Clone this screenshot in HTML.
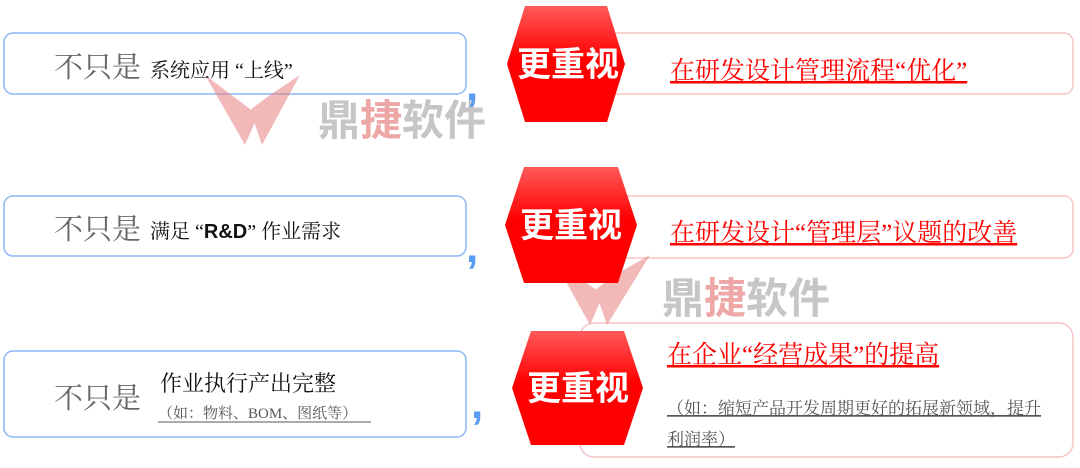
<!DOCTYPE html>
<html><head><meta charset="utf-8"><style>
body{margin:0;background:#fff;width:1080px;height:463px;overflow:hidden}
svg text{font-family:"Liberation Serif","Noto Serif CJK SC",serif}
.s{font-family:"Liberation Sans","Noto Sans CJK SC",sans-serif}
</style></head><body>
<svg width="1080" height="463" xmlns="http://www.w3.org/2000/svg">
<defs><linearGradient id="g" x1="0" y1="0" x2="0" y2="1"><stop offset="0" stop-color="#ff5a5a"/><stop offset="0.45" stop-color="#f00"/><stop offset="1" stop-color="#f00"/></linearGradient></defs>
<g fill="none" stroke="#8ab8f5" stroke-width="1.5">
<rect x="4" y="33" width="462" height="61" rx="9"/>
<rect x="4" y="196" width="462" height="60" rx="9"/>
<rect x="4" y="351" width="462" height="86" rx="9"/>
</g>
<g fill="none" stroke="#f8c4c4" stroke-width="1.5">
<rect x="590" y="33" width="483" height="61" rx="9"/>
<rect x="590" y="196" width="483" height="62" rx="9"/>
<rect x="580" y="323" width="493" height="134" rx="14"/>
</g>
<g opacity="0.55">
<path d="M205 75 L245 145 L258 115 Z M250 110 L262 145 L300 75 L270 95 Z" fill="#e88080"/>
<text x="318" y="135" font-size="42" fill="#999" class="s" font-weight="bold">鼎<tspan fill="#e06060">捷</tspan>软件</text>
<path d="M553 258 L590 325 L603 295 Z M595 290 L607 325 L650 255 L615 275 Z" fill="#e88080"/>
<text x="662" y="313" font-size="42" fill="#999" class="s" font-weight="bold">鼎<tspan fill="#e06060">捷</tspan>软件</text>
</g>
<g fill="url(#g)">
<polygon points="525,6 607,6 625,64 607,122 525,122 507,64"/>
<polygon points="524,167 618,167 637,225 618,283 524,283 505,225"/>
<polygon points="531,331 624,331 643,388 624,445 531,445 512,388"/>
</g>
<g fill="#fff" font-size="34" font-weight="bold" text-anchor="middle">
<text class="s" x="568" y="76">更重视</text>
<text class="s" x="571" y="237">更重视</text>
<text class="s" x="578" y="400">更重视</text>
</g>
<g fill="#5a9df0" font-size="44" font-weight="bold">
<text class="s" x="466" y="100">,</text>
<text class="s" x="466" y="262">,</text>
<text class="s" x="471" y="418">,</text>
</g>
<g fill="#666" font-size="29">
<text x="54" y="77">不只是</text>
<text x="54" y="239">不只是</text>
<text x="54" y="408">不只是</text>
</g>
<g fill="#111" font-size="20">
<text x="150" y="77">系统应用 “上线”</text>
<text x="150" y="238">满足 “<tspan class="s" font-weight="bold">R&amp;D</tspan>” 作业需求</text>
<text x="160" y="391" font-size="22">作业执行产出完整</text>
</g>
<text x="158" y="418" font-size="15" fill="#555">（如：物料、BOM、图纸等）</text>
<line x1="158" y1="422" x2="371" y2="422" stroke="#555" stroke-width="1"/>
<g fill="#f00" font-size="25">
<text x="670" y="79" text-decoration="underline">在研发设计管理流程“优化”</text>
<text x="670" y="241" text-decoration="underline">在研发设计“管理层”议题的改善</text>
<text x="667" y="363" text-decoration="underline">在企业“经营成果”的提高</text>
</g>
<g fill="#555" font-size="17">
<text x="667" y="414" text-decoration="underline">（如：缩短产品开发周期更好的拓展新领域，提升</text>
<text x="667" y="445" text-decoration="underline">利润率）</text>
</g>
</svg>
</body></html>
